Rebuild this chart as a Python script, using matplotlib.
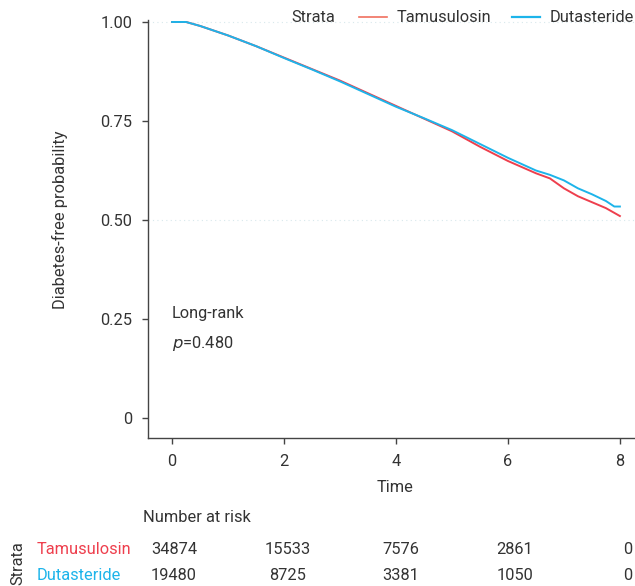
#!/usr/bin/env python3

import matplotlib
matplotlib.use("Agg")
import matplotlib.pyplot as plt
from matplotlib.lines import Line2D

plt.rcParams["font.family"] = ["Roboto", "DejaVu Sans"]
plt.rcParams["font.size"] = 11.8

# データ
time_pts = [0, 0.25, 0.5, 1.0, 1.5, 2.0, 2.5, 3.0, 3.5, 4.0, 4.5, 5.0, 5.5,
            6.0, 6.5, 6.75, 7.0, 7.25, 7.5, 7.75, 7.9, 8.0]
surv_tam = [1.000, 1.000, 0.990, 0.966, 0.939, 0.910, 0.881, 0.852, 0.820, 0.788,
            0.756, 0.724, 0.685, 0.649, 0.618, 0.605, 0.580, 0.560, 0.545, 0.530,
            0.518, 0.510]
surv_dut = [1.000, 1.000, 0.990, 0.966, 0.939, 0.909, 0.880, 0.850, 0.818, 0.786,
            0.757, 0.727, 0.692, 0.657, 0.625, 0.614, 0.600, 0.580, 0.565, 0.548,
            0.534, 0.534]

strata = ["Tamusulosin", "Dutasteride"]
risk_times = [0, 2, 4, 6, 8]
risk_tam = [34874, 15533, 7576, 2861, 0]
risk_dut = [19480, 8725, 3381, 1050, 0]

x_ticks = [0, 2, 4, 6, 8]
y_ticks = [0, 0.25, 0.5, 0.75, 1.0]
y_ticklabels = ["0", "0.25", "0.50", "0.75", "1.00"]
grid_y = [0.5, 1.0]

col_tam = "#EE3F4D"
col_dut = "#1DB4EA"
col_tam_leg = "#F0705F"
txt_col = "#333333"

W, H = 635, 586


def plot_and_save_graph():
    fig = plt.figure(figsize=(W / 100, H / 100), dpi=100)

    # メインのKM曲線
    ax = fig.add_axes([148 / W, 1 - 438 / H, (W - 148) / W, (438 - 20) / H])
    for gy in grid_y:
        ax.axhline(gy, color="#d8e8ec", linestyle=(0, (1, 3)), linewidth=0.8, zorder=0)
    ax.plot(time_pts, surv_tam, color=col_tam, linewidth=1.4, clip_on=False)
    ax.plot(time_pts, surv_dut, color=col_dut, linewidth=1.4, clip_on=False)

    ax.set_xlim(-0.43, 8.27)
    ax.set_ylim(-0.0505, 1.005)
    ax.set_xticks(x_ticks)
    ax.set_yticks(y_ticks)
    ax.set_yticklabels(y_ticklabels)
    for s in ["top", "right"]:
        ax.spines[s].set_visible(False)
    for s in ["left", "bottom"]:
        ax.spines[s].set_color("#444444")
        ax.spines[s].set_linewidth(1.0)
    ax.tick_params(length=4.5, width=1.0, color="#444444", labelcolor=txt_col, pad=7)

    ax.text(0, 0.263, "Long-rank", ha="left", va="center", color=txt_col)
    ax.text(0, 0.187, r"$\it{p}$=0.480", ha="left", va="center", color=txt_col)

    fig.text(60 / W, 1 - 220 / H, "Diabetes-free probability", rotation=90,
             ha="center", va="center", color=txt_col)
    fig.text(395 / W, 1 - 488 / H, "Time", ha="center", va="center", color=txt_col)

    # 凡例
    fig.text(291 / W, 1 - 18 / H, "Strata", ha="left", va="center", color=txt_col)
    handles = [Line2D([], [], color=col_tam_leg, linewidth=1.2),
               Line2D([], [], color=col_dut, linewidth=1.6)]
    fig.legend(handles, strata, loc="center right", bbox_to_anchor=(634 / W, 1 - 18 / H),
               ncol=2, frameon=False, borderpad=0, borderaxespad=0,
               handlelength=1.7, handletextpad=0.6, columnspacing=1.25,
               labelcolor=txt_col)

    # リスクテーブル
    tab = fig.add_axes([0, 0, 1, 1 - 500 / H])
    tab.set_axis_off()
    tab.set_xlim((0 - 174) / 56.75, (W - 174) / 56.75)
    tab.set_ylim(H, 500)
    tab.text((143 - 174) / 56.75, 517, "Number at risk", ha="left", va="center", color=txt_col)
    rows = [(risk_tam, col_tam, 549), (risk_dut, col_dut, 576)]
    for name, (vals, col, yy) in zip(strata, rows):
        tab.text((37 - 174) / 56.75, yy, name, ha="left", va="center", color=col)
        for t, v in zip(risk_times, vals):
            tab.text(t, yy, str(v), ha="center", va="center", color=txt_col)
    tab.text((18 - 174) / 56.75, 563, "Strata", rotation=90, ha="center", va="center",
             color=txt_col)

    fig.savefig("out.png", dpi=100)


def main():
    plot_and_save_graph()


if __name__ == "__main__":
    main()
